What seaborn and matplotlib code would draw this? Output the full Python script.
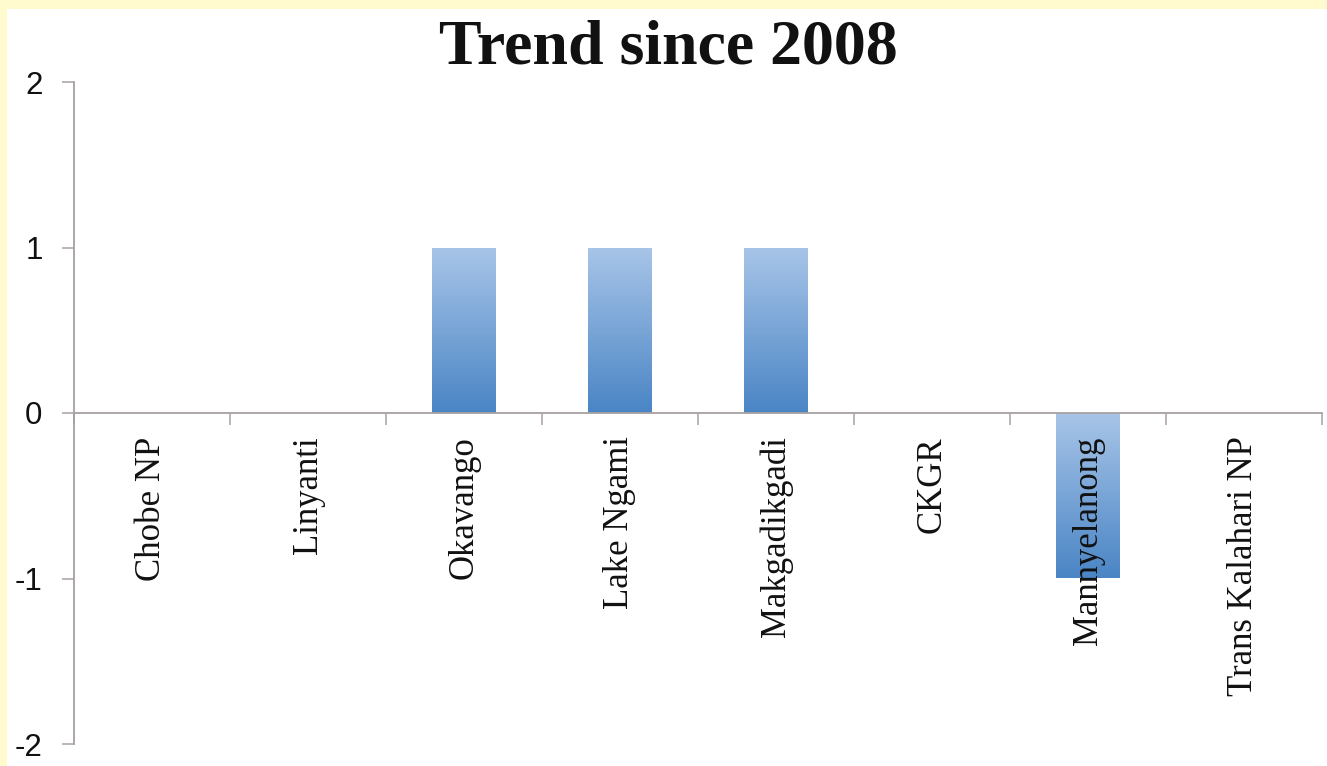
import numpy as np
import pandas as pd
import matplotlib
matplotlib.use("Agg")
import matplotlib.pyplot as plt
from matplotlib.patches import Rectangle
from matplotlib.colors import LinearSegmentedColormap
import seaborn as sns

categories = ["Chobe NP", "Linyanti", "Okavango", "Lake Ngami", "Makgadikgadi",
              "CKGR", "Mannyelanong", "Trans Kalahari NP"]
values = [0, 0, 1, 1, 1, 0, -1, 0]
y_ticks = [-2, -1, 0, 1, 2]
title = "Trend since 2008"

df = pd.DataFrame({"site": categories, "trend": values})

sns.set_theme(style="white")
plt.rcParams["font.family"] = ["Liberation Serif", "DejaVu Serif"]

W, H = 1327, 766
fig = plt.figure(figsize=(W / 100, H / 100), dpi=100)
fig.patch.set_facecolor("#fffbcf")
fig.patches.append(Rectangle((7 / W, 0), 1, 1 - 9 / H, transform=fig.transFigure,
                             facecolor="white", edgecolor="none", zorder=-10))

ax = fig.add_axes([74 / W, 1 - 744 / H, 1248 / W, 662 / H])
ax.set_facecolor("none")

sns.barplot(data=df, x="site", y="trend", width=0.41, color="#6f9fd6",
            ax=ax, saturation=1, zorder=1)

ax.set_xlim(-0.5, len(categories) - 0.5)
ax.set_ylim(min(y_ticks), max(y_ticks))

# gradient fill in bars
cmap = LinearSegmentedColormap.from_list("g", ["#4a85c5", "#a8c5e8"])
grad = np.linspace(0, 1, 256).reshape(-1, 1)
for p in list(ax.patches):
    h = p.get_height()
    if h == 0:
        p.set_visible(False)
        continue
    x0, w = p.get_x(), p.get_width()
    y0 = min(p.get_y(), p.get_y() + h)
    y1 = max(p.get_y(), p.get_y() + h)
    p.set_facecolor("none")
    p.set_edgecolor("none")
    im = ax.imshow(grad, extent=[x0, x0 + w, y0, y1], origin="lower",
                   cmap=cmap, aspect="auto", zorder=1)
    im.set_clip_path(p)

ax.set_xlim(-0.5, len(categories) - 0.5)
ax.set_ylim(min(y_ticks), max(y_ticks))

spine_c = "#a8a0a0"
for s in ["top", "right"]:
    ax.spines[s].set_visible(False)
ax.spines["left"].set_color(spine_c)
ax.spines["left"].set_linewidth(1.3)
ax.spines["bottom"].set_position(("data", 0))
ax.spines["bottom"].set_color(spine_c)
ax.spines["bottom"].set_linewidth(1.3)
ax.spines["bottom"].set_zorder(4)
ax.xaxis.set_zorder(5)
ax.yaxis.set_zorder(5)

ax.set_yticks(y_ticks)
ax.set_yticklabels([str(v) for v in y_ticks], family=["Liberation Sans", "DejaVu Sans"],
                   fontsize=22.5, color="#111111")
ax.tick_params(axis="y", direction="out", length=8.6, width=1.1, color=spine_c,
               pad=14, left=True)

ax.set_xticks(np.arange(-0.5, len(categories), 1.0))
ax.set_xticklabels([])
ax.set_xticks(np.arange(len(categories)), minor=True)
ax.set_xticklabels(categories, minor=True, rotation=90, fontsize=25,
                   va="top", ha="center", color="#111111")
ax.tick_params(axis="x", which="major", direction="out", length=8.6, width=1.1,
               color=spine_c, bottom=True)
ax.tick_params(axis="x", which="minor", length=0, pad=17, bottom=True)
ax.set_xlabel("")
ax.set_ylabel("")

fig.text(668 / W, 1 - 63 / H, title, ha="center", va="baseline",
         fontsize=46, fontweight="bold", family=["Liberation Serif", "DejaVu Serif"],
         color="#111111")

fig.savefig("out.png", dpi=100, facecolor=fig.get_facecolor())
